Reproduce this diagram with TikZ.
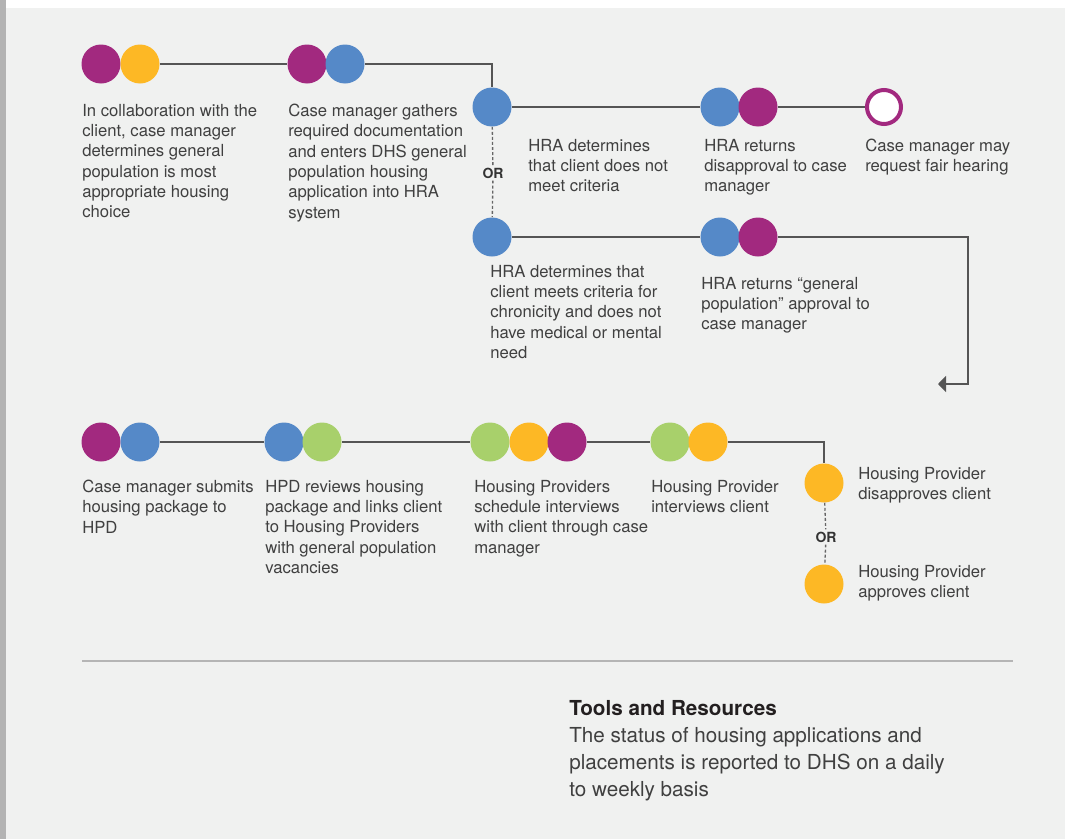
\documentclass[tikz,border=0pt]{standalone}
\usepackage{fontspec}
\setmainfont{TeX Gyre Heros}
\usetikzlibrary{arrows.meta}
\definecolor{bg}{HTML}{F0F1F0}
\definecolor{barc}{HTML}{B3B3B3}
\definecolor{cmag}{HTML}{A2297F}
\definecolor{cyel}{HTML}{FDB825}
\definecolor{cblu}{HTML}{5589C8}
\definecolor{cgrn}{HTML}{A8D06B}
\definecolor{cline}{HTML}{555555}
\definecolor{cdash}{HTML}{666666}
\definecolor{ctext}{HTML}{404040}
\definecolor{ctitle}{HTML}{231F20}
\definecolor{csep}{HTML}{B5B5B5}
\begin{document}
\begin{tikzpicture}[x=0.75pt,y=-0.75pt,
  dot/.style={circle,inner sep=0pt,minimum size=29.25pt},
  mag/.style={dot,fill=cmag},
  yel/.style={dot,fill=cyel},
  blu/.style={dot,fill=cblu},
  grn/.style={dot,fill=cgrn},
  hollow/.style={circle,inner sep=0pt,minimum size=25.5pt,fill=white,draw=cmag,line width=3pt},
  conn/.style={draw=cline,line width=1.1pt},
  orline/.style={draw=cdash,line width=1pt,dash pattern=on 2.2pt off 1.6pt},
  lbl/.style={anchor=north west,inner sep=0pt,align=left,font=\fontsize{12.5}{15.2}\selectfont,text=ctext},
  ortext/.style={font=\bfseries\fontsize{10.5}{12}\selectfont,text=ctext!80!black,inner sep=1.5pt}
]
\useasboundingbox (0,0) rectangle (1065,839);
\fill[bg] (0,0) rectangle (1065,839);
\fill[white] (6,0) rectangle (1065,8);
\fill[barc] (0,0) rectangle (6,839);

\coordinate (turn) at (968,384);
\coordinate (arrtip) at (938,384);

% circles rows 1 and 2
\node[mag] (m1) at (101,64) {};
\node[yel] (y1) at (140,64) {};
\node[mag] (m2) at (307,64) {};
\node[blu] (b2) at (345,64) {};
\node[blu] (b3) at (492,107) {};
\node[blu] (b4) at (720,107) {};
\node[mag] (m4) at (758,107) {};
\node[hollow] (h4) at (884,107) {};
\node[blu] (b5) at (492,237) {};
\node[blu] (b6) at (720,237) {};
\node[mag] (m6) at (758,237) {};

% row 3
\node[mag] (m9) at (101,442) {};
\node[blu] (b9) at (140,442) {};
\node[blu] (b10) at (284,442) {};
\node[grn] (g10) at (322,442) {};
\node[grn] (g11) at (490,442) {};
\node[yel] (y11) at (529,442) {};
\node[mag] (m11) at (567,442) {};
\node[grn] (g12) at (670,442) {};
\node[yel] (y12) at (708,442) {};
\node[yel] (y13) at (824,483) {};
\node[yel] (y14) at (824,584) {};

% OR labels
\node[ortext] (or1) at (493,173) {OR};
\node[ortext] (or2) at (826,537) {OR};

% connectors
\draw[conn] (y1) -- (m2);
\draw[conn] (b2) -| (b3);
\draw[conn] (b3) -- (b4);
\draw[conn] (m4) -- (h4);
\draw[conn] (b5) -- (b6);
\draw[conn,-{Triangle[length=6pt,width=12pt]}] (m6) -| (turn) -- (arrtip);
\draw[conn] (b9) -- (b10);
\draw[conn] (g10) -- (g11);
\draw[conn] (m11) -- (g12);
\draw[conn] (y12) -| (y13);
\draw[orline] (b3) -- (or1);
\draw[orline] (or1) -- (b5);
\draw[orline] (y13) -- (or2);
\draw[orline] (or2) -- (y14);

% labels
\node[lbl] (t1) at (82,104) {In collaboration with the\\client, case manager\\determines general\\population is most\\appropriate housing\\choice};
\node[lbl] (t2) at (288,104) {Case manager gathers\\required documentation\\and enters DHS general\\population housing\\application into HRA\\system};
\node[lbl] (t3) at (528,139) {HRA determines\\that client does not\\meet criteria};
\node[lbl] (t4) at (704,139) {HRA returns\\disapproval to case\\manager};
\node[lbl] (t5) at (865,139) {Case manager may\\request fair hearing};
\node[lbl] (t6) at (490,265) {HRA determines that\\client meets criteria for\\chronicity and does not\\have medical or mental\\need};
\node[lbl] (t7) at (701,277) {HRA returns “general\\population” approval to\\case manager};
\node[lbl] (t8) at (82,480) {Case manager submits\\housing package to\\HPD};
\node[lbl] (t9) at (265,480) {HPD reviews housing\\package and links client\\to Housing Providers\\with general population\\vacancies};
\node[lbl] (t10) at (474,480) {Housing Providers\\schedule interviews\\with client through case\\manager};
\node[lbl] (t11) at (651,480) {Housing Provider\\interviews client};
\node[lbl] (t12) at (858,467) {Housing Provider\\disapproves client};
\node[lbl] (t13) at (858,565) {Housing Provider\\approves client};

% separator
\coordinate (sepL) at (82,661);
\coordinate (sepR) at (1013,661);
\draw[csep,line width=1.9pt] (sepL) -- (sepR);

% tools and resources
\node[anchor=north west,inner sep=0pt,align=left,font=\fontsize{15.5}{20.25}\selectfont,text=ctext] (tools) at (569,700)
 {\textcolor{ctitle}{\bfseries Tools and Resources}\\The status of housing applications and\\placements is reported to DHS on a daily\\to weekly basis};
\end{tikzpicture}
\end{document}
